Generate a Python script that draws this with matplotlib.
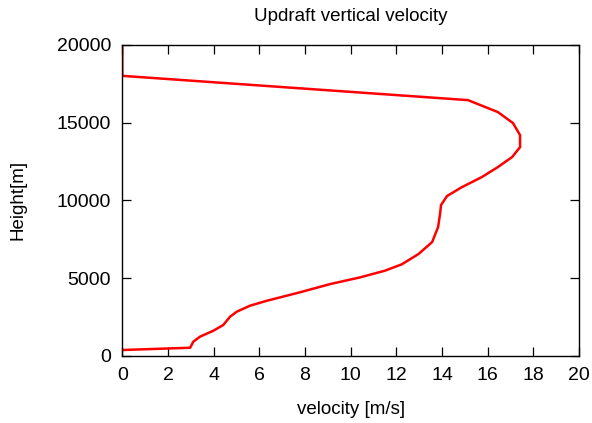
import matplotlib
matplotlib.use("Agg")
import matplotlib.pyplot as plt

velocity = [0.0, 2.97, 3.11, 3.40, 3.99, 4.42, 4.72, 5.01, 5.59, 6.33, 7.71, 9.1, 10.41, 11.5, 12.24, 12.97, 13.57, 13.83, 13.92, 13.96, 14.22, 14.85, 15.75, 16.45, 17.07, 17.42, 17.42, 17.11, 16.45, 15.14, 0.0, 0.0]
height = [385, 530, 920, 1240, 1625, 1990, 2525, 2845, 3230, 3550, 4065, 4620, 5050, 5480, 5890, 6550, 7320, 8285, 9180, 9700, 10275, 10830, 11500, 12140, 12780, 13420, 14190, 14965, 15670, 16440, 18000, 20000]

xticks = list(range(0, 21, 2))
yticks = [0, 5000, 10000, 15000, 20000]

plt.rcParams['font.family'] = ['Liberation Sans', 'DejaVu Sans']

fig = plt.figure(figsize=(5.92, 4.23), dpi=100)
ax = fig.add_axes([0.2066, 0.1584, 0.7714, 0.7359])
ax.plot(velocity, height, color='#ff0000', linewidth=1.8)
ax.set_xlim(0, 20)
ax.set_ylim(0, 20000)
ax.set_xticks(xticks)
ax.set_yticks(yticks)
ax.tick_params(direction='in', length=6.5, width=0.9, top=True, right=True,
               labelsize=14, pad=8, colors='black')
for s in ax.spines.values():
    s.set_linewidth(1.0)
ax.set_title('Updraft vertical velocity', fontsize=13.5, pad=17)
ax.set_xlabel('velocity [m/s]', fontsize=13.5, labelpad=12)
ax.set_ylabel('Height[m]', fontsize=13.5, labelpad=22)
fig.savefig('out.png', dpi=100)
